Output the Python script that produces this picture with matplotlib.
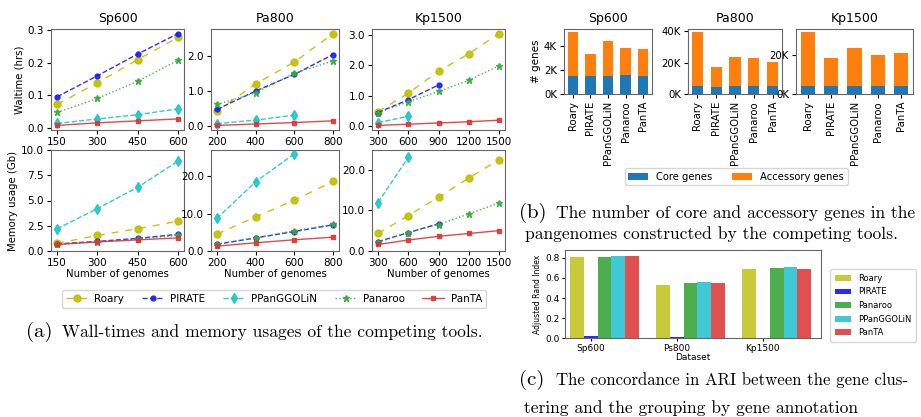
import matplotlib
matplotlib.use('Agg')
import matplotlib.pyplot as plt
from matplotlib.ticker import FormatStrFormatter, MultipleLocator, FuncFormatter
import numpy as np

tools = ['Roary', 'PIRATE', 'PPanGGOLiN', 'Panaroo', 'PanTA']
datasets = ['Sp600', 'Pa800', 'Kp1500']

# (a) number of genomes per dataset
sp600_n = [150, 300, 450, 600]
pa800_n = [200, 400, 600, 800]
kp1500_n = [300, 600, 900, 1200, 1500]

# wall time (hrs)
sp600_time = {'Roary': [0.072, 0.138, 0.21, 0.278], 'PIRATE': [0.095, 0.16, 0.227, 0.29],
              'PPanGGOLiN': [0.013, 0.027, 0.04, 0.058], 'Panaroo': [0.047, 0.09, 0.143, 0.208],
              'PanTA': [0.007, 0.015, 0.021, 0.027]}
pa800_time = {'Roary': [0.43, 1.2, 1.82, 2.62], 'PIRATE': [0.48, 1.0, 1.47, 2.03],
              'PPanGGOLiN': [0.08, 0.18, 0.32], 'Panaroo': [0.62, 0.95, 1.5, 1.85],
              'PanTA': [0.03, 0.07, 0.11, 0.16]}
kp1500_time = {'Roary': [0.48, 1.08, 1.8, 2.37, 3.03], 'PIRATE': [0.45, 0.87, 1.35],
               'PPanGGOLiN': [0.12, 0.33], 'Panaroo': [0.45, 0.8, 1.14, 1.5, 1.98],
               'PanTA': [0.03, 0.07, 0.11, 0.15, 0.2]}

# memory usage (Gb)
sp600_mem = {'Roary': [0.75, 1.55, 2.2, 2.95], 'PIRATE': [0.7, 0.95, 1.25, 1.65],
             'PPanGGOLiN': [2.2, 4.2, 6.3, 8.9], 'Panaroo': [0.65, 0.9, 1.2, 1.55],
             'PanTA': [0.65, 0.9, 1.1, 1.3]}
pa800_mem = {'Roary': [4.5, 9.1, 13.6, 18.6], 'PIRATE': [1.8, 3.5, 5.2, 7.0],
             'PPanGGOLiN': [8.7, 18.5, 26.0], 'Panaroo': [1.8, 3.5, 5.4, 7.1],
             'PanTA': [1.3, 2.2, 3.0, 3.7]}
kp1500_mem = {'Roary': [4.3, 8.7, 13.2, 17.9, 22.4], 'PIRATE': [2.3, 4.5, 6.7],
              'PPanGGOLiN': [11.9, 23.0], 'Panaroo': [2.2, 4.5, 6.5, 9.1, 11.8],
              'PanTA': [1.6, 2.7, 3.6, 4.3, 5.0]}

# (b) core / total genes
sp600_core = [1540, 1550, 1550, 1620, 1550]
sp600_total = [5210, 3390, 4500, 3860, 3780]
pa800_core = [4800, 4700, 5300, 5200, 5000]
pa800_total = [39600, 17500, 23800, 23000, 20400]
kp1500_core = [4200, 4000, 4200, 4200, 4200]
kp1500_total = [31500, 18100, 23400, 20000, 20700]

# (c) ARI, order Roary, PIRATE, Panaroo, PPanGGOLiN, PanTA
ari_datasets = ['Sp600', 'Ps800', 'Kp1500']
ari_tools = ['Roary', 'PIRATE', 'Panaroo', 'PPanGGOLiN', 'PanTA']
ari_roary = [0.81, 0.535, 0.695]
ari_pirate = [0.02, 0.006, 0.0]
ari_panaroo = [0.81, 0.55, 0.70]
ari_ppanggolin = [0.82, 0.56, 0.71]
ari_panta = [0.82, 0.555, 0.69]

styles = {
    'Roary': dict(color='#bfbf00', marker='o', ms=5, dashes=(5, 5)),
    'PIRATE': dict(color='#1a1aff', marker='o', ms=3.5, ls='--'),
    'PPanGGOLiN': dict(color='#1fc4cc', marker='d', ms=5, ls='--'),
    'Panaroo': dict(color='#3aaa3a', marker='*', ms=4.5, ls=':'),
    'PanTA': dict(color='#e03535', marker='s', ms=3.5, ls='-'),
}

W, H = 921, 417
fig = plt.figure(figsize=(9.21, 4.17), dpi=100)


def px_axes(l, t, r, b):
    return fig.add_axes([l / W, 1 - b / H, (r - l) / W, (b - t) / H])


tick_fs = 7.5
title_fs = 9
serif = ['cmr10', 'DejaVu Serif']
cap = dict(family=serif, fontsize=12.6, va='center')
num = dict(family=serif, fontsize=15, va='center')

# ---------- (a) ----------
cols = [(51, 184), (211, 339), (372, 505)]
ns = [sp600_n, pa800_n, kp1500_n]
times = [sp600_time, pa800_time, kp1500_time]
mems = [sp600_mem, pa800_mem, kp1500_mem]
time_steps = [0.1, 1.0, 1.0]
mem_steps = [2.5, 10, 10]
mem_lims = [10, 27, 24.8]
lines = []
for i in range(3):
    l, r = cols[i]
    for row in range(2):
        ax = px_axes(l, 29, r, 130) if row == 0 else px_axes(l, 150, r, 251)
        d = times[i] if row == 0 else mems[i]
        for t in tools:
            y = d[t]
            ln, = ax.plot(ns[i][:len(y)], y, lw=1, alpha=0.9, **styles[t])
            if i == 0 and row == 0:
                lines.append(ln)
        ax.set_xticks(ns[i])
        ax.tick_params(labelsize=tick_fs, length=3, pad=2)
        ax.yaxis.set_major_formatter(FormatStrFormatter('%.1f'))
        if row == 0:
            ax.yaxis.set_major_locator(MultipleLocator(time_steps[i]))
            ax.set_title(datasets[i], fontsize=title_fs, pad=5)
        else:
            ax.yaxis.set_major_locator(MultipleLocator(mem_steps[i]))
            ax.set_ylim(0, mem_lims[i])
            ax.set_xlabel('Number of genomes', fontsize=7.3, labelpad=1)
        for s in ax.spines.values():
            s.set_color('#666666')
        if i == 0:
            ax.set_ylabel('Waltime (hrs)' if row == 0 else 'Memory usage (Gb)', fontsize=7.3, labelpad=2)

fig.legend(lines, tools, loc='center', bbox_to_anchor=(274 / W, 1 - 299 / H), ncol=5,
           fontsize=7.5, handlelength=2.1, handletextpad=0.6, columnspacing=1.7,
           frameon=True, borderpad=0.4)

fig.text(26 / W, 1 - 332 / H, '(a)', **num)
fig.text(62 / W, 1 - 332 / H, 'Wall-times and memory usages of the competing tools.', **cap)

# ---------- (b) ----------
bcols = [(564, 652), (688, 782), (796, 913)]
cores = [sp600_core, pa800_core, kp1500_core]
totals = [sp600_total, pa800_total, kp1500_total]
kfmt = FuncFormatter(lambda v, p: '%dK' % int(round(v / 1000)))
bsteps = [2000, 20000, 20000]
for i in range(3):
    l, r = bcols[i]
    ax = px_axes(l, 29, r, 94)
    x = np.arange(len(tools))
    core = np.array(cores[i])
    acc = np.array(totals[i]) - core
    b1 = ax.bar(x, core, width=0.6, color='#1f77b4')
    b2 = ax.bar(x, acc, width=0.6, bottom=core, color='#ff7f0e')
    ax.set_xlim(-0.5, 4.5)
    ax.set_xticks(x)
    ax.set_xticklabels(tools, rotation=90)
    ax.yaxis.set_major_locator(MultipleLocator(bsteps[i]))
    ax.yaxis.set_major_formatter(kfmt)
    ax.tick_params(labelsize=7.3, length=3, pad=2)
    ax.set_title(datasets[i], fontsize=title_fs, pad=5)
    for s in ax.spines.values():
        s.set_color('#666666')
    if i == 0:
        ax.set_ylabel('# genes', fontsize=7.5, labelpad=2)

fig.legend([b1, b2], ['Core genes', 'Accessory genes'], loc='center',
           bbox_to_anchor=(736 / W, 1 - 176.5 / H), ncol=2, fontsize=7.2,
           handlelength=2.0, columnspacing=2.0, frameon=True, borderpad=0.35)

fig.text(519 / W, 1 - 213 / H, '(b)', **num)
fig.text(556 / W, 1 - 213 / H, 'The number of core and accessory genes in the', **cap)
fig.text(525 / W, 1 - 234 / H, 'pangenomes constructed by the competing tools.', **cap)

# ---------- (c) ----------
ax = px_axes(565, 250, 821, 338)
ari_vals = [ari_roary, ari_pirate, ari_panaroo, ari_ppanggolin, ari_panta]
ari_colors = ['#c9c93c', '#2a2aff', '#4cae4c', '#3fc8d6', '#e05050']
x = np.arange(3)
w = 0.16
handles = []
for k in range(5):
    h = ax.bar(x + k * w, ari_vals[k], width=w, color=ari_colors[k])
    handles.append(h)
ax.set_xlim(-0.138, 2.835)
ax.set_ylim(0, 0.88)
ax.set_xticks(x + w)
ax.set_xticklabels(ari_datasets)
ax.yaxis.set_major_locator(MultipleLocator(0.2))
ax.yaxis.set_major_formatter(FormatStrFormatter('%.1f'))
ax.tick_params(labelsize=6.5, length=2.5, pad=1.5)
ax.set_xlabel('Dataset', fontsize=6.5, labelpad=0)
ax.set_ylabel('Adjusted Rand Index', fontsize=5.5, labelpad=2)
for s in ax.spines.values():
    s.set_color('#666666')
fig.legend(handles, ari_tools, loc='upper left', bbox_to_anchor=(826 / W, 1 - 265 / H),
           fontsize=6, frameon=True, handlelength=2.0, labelspacing=0.55, borderpad=0.55)

fig.text(519 / W, 1 - 380 / H, '(c)', **num)
fig.text(556 / W, 1 - 380 / H, 'The concordance in ARI between the gene clus-',
         family=serif, fontsize=12.1, va='center')
fig.text(524 / W, 1 - 408 / H, 'tering and the grouping by gene annotation', **cap)

fig.savefig('out.png', dpi=100)
